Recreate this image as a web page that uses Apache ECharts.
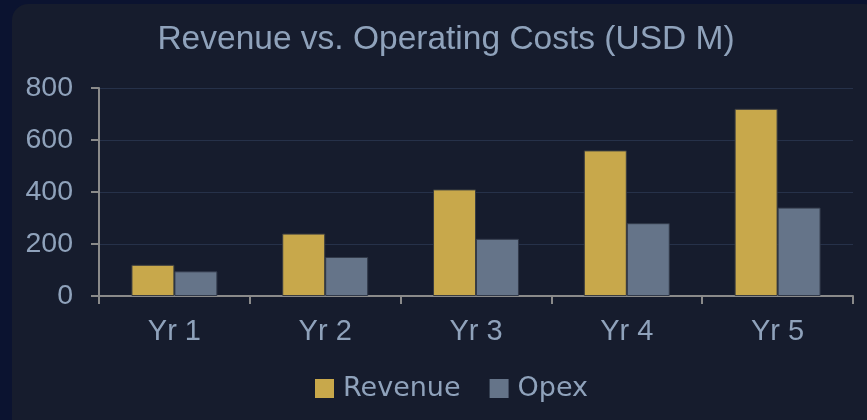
<!DOCTYPE html>
<html>
<head>
<meta charset="utf-8">
<script src="https://cdn.jsdelivr.net/npm/echarts@6/dist/echarts.min.js"></script>
<style>
  html, body {
    margin: 0;
    padding: 0;
    width: 867px;
    height: 420px;
    overflow: hidden;
    background: #0b1330;
  }
  .panel {
    position: absolute;
    left: 12px;
    top: 4px;
    width: 868px;
    height: 440px;
    border-radius: 16px;
    background: #161c2d;
  }
</style>
</head>
<body>
<div class="panel" id="barChart"></div>
<script>
const categories = ['Yr 1', 'Yr 2', 'Yr 3', 'Yr 4', 'Yr 5'];
const revenue = [120, 240, 410, 560, 720];
const opex = [95, 150, 220, 280, 340];
const yTicks = [0, 200, 400, 600, 800];

const textColor = '#8fa2bb';
const axisColor = '#8a8a8a';

const chart = echarts.init(document.getElementById('barChart'));

chart.setOption({
  animation: false,
  backgroundColor: 'transparent',
  title: {
    text: 'Revenue vs. Operating Costs (USD M)',
    left: 'center',
    top: 14,
    textStyle: {
      color: textColor,
      fontFamily: 'Liberation Sans',
      fontSize: 33.5,
      fontWeight: 'normal',
    },
  },
  legend: {
    top: 366,
    left: 298,
    itemWidth: 19,
    itemHeight: 19,
    itemGap: 29,
    icon: 'rect',
    itemStyle: {borderWidth: 0},
    textStyle: {
      color: textColor,
      fontFamily: 'DejaVu Sans',
      fontSize: 27,
      padding: [0, 0, 0, 4],
    },
    data: ['Revenue', 'Opex'],
  },
  grid: {
    left: 87,
    right: 27,
    top: 84,
    height: 208,
  },
  xAxis: {
    type: 'category',
    data: categories,
    axisLine: {lineStyle: {color: axisColor, width: 2}},
    axisTick: {show: true, length: 8, lineStyle: {color: axisColor, width: 2}},
    axisLabel: {
      color: textColor,
      fontFamily: 'Liberation Sans',
      fontSize: 29,
      margin: 21,
    },
  },
  yAxis: {
    type: 'value',
    min: yTicks[0],
    max: yTicks[yTicks.length - 1],
    interval: 200,
    axisLine: {show: true, lineStyle: {color: axisColor, width: 2}},
    axisTick: {show: true, length: 8, lineStyle: {color: axisColor, width: 2}},
    axisLabel: {
      color: textColor,
      fontFamily: 'Liberation Sans',
      fontSize: 28.5,
      margin: 26,
    },
    splitLine: {lineStyle: {color: '#263149', width: 1}},
  },
  series: [
    {
      name: 'Revenue',
      type: 'bar',
      data: revenue,
      barGap: '0%',
      barCategoryGap: '43%',
      itemStyle: {color: '#c8a84b', borderColor: '#3b3d40', borderWidth: 1},
    },
    {
      name: 'Opex',
      type: 'bar',
      data: opex,
      itemStyle: {color: '#657489', borderColor: '#323a4a', borderWidth: 1},
    },
  ],
});
</script>
</body>
</html>
